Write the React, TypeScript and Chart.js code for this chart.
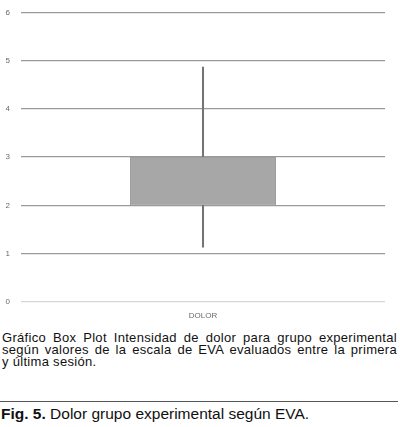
import React, { useEffect, useRef } from "react";
import { Chart, registerables } from "chart.js";

Chart.register(...registerables);

// Box plot summary for the pain (EVA) scores
const categories = ["DOLOR"];
const lowerWhisker = [1.13];
const q1 = [2];
const q3 = [3];
const upperWhisker = [4.87];
const yTicks = [0, 1, 2, 3, 4, 5, 6];

const captionLines = [
  "Gráfico Box Plot Intensidad de dolor para grupo experimental",
  "según valores de la escala de EVA evaluados entre la primera",
  "y última sesión.",
];
const figLabel = "Fig. 5.";
const figTitle = "Dolor grupo experimental según EVA.";

export default function App() {
  const canvasRef = useRef<HTMLCanvasElement | null>(null);

  useEffect(() => {
    document.body.style.margin = "0";
    const canvas = canvasRef.current;
    if (!canvas) return;

    const boxData = categories.map((_, i) => [q1[i], q3[i]]);
    const lowData = categories.map((_, i) => [lowerWhisker[i], q1[i]]);
    const highData = categories.map((_, i) => [q3[i], upperWhisker[i]]);

    const chart = new Chart(canvas, {
      type: "bar",
      data: {
        labels: categories,
        datasets: [
          {
            label: "whisker-low",
            data: lowData as any,
            backgroundColor: "#747474",
            borderWidth: 0,
            barThickness: 1.4,
            grouped: false,
            order: 2,
          } as any,
          {
            label: "whisker-high",
            data: highData as any,
            backgroundColor: "#747474",
            borderWidth: 0,
            barThickness: 1.4,
            grouped: false,
            order: 2,
          } as any,
          {
            label: "box",
            data: boxData as any,
            backgroundColor: "#a6a7a6",
            borderColor: "#9c9d9c",
            borderWidth: 1,
            borderSkipped: false,
            barPercentage: 0.401,
            categoryPercentage: 1,
            grouped: false,
            order: 1,
          } as any,
        ],
      },
      options: {
        responsive: false,
        animation: false,
        layout: {
          autoPadding: false,
          padding: { left: 0, right: 15, top: 12.5, bottom: 0 },
        },
        plugins: {
          legend: { display: false },
          tooltip: { enabled: false },
        },
        scales: {
          x: {
            afterFit: (axis: any) => {
              axis.height = 20.3;
              axis.paddingLeft = 0;
              axis.paddingRight = 0;
            },
            grid: { display: false },
            border: { display: false },
            ticks: {
              color: "#6a6a6a",
              font: { family: "Liberation Sans", size: 8 },
              padding: 1,
            },
          },
          y: {
            min: 0,
            max: 6,
            afterBuildTicks: (axis: any) => {
              axis.ticks = yTicks.map((v) => ({ value: v }));
            },
            afterFit: (axis: any) => {
              axis.width = 21;
              axis.paddingTop = 0;
              axis.paddingBottom = 0;
            },
            border: { display: false },
            grid: {
              drawTicks: false,
              lineWidth: 1.3,
              color: (ctx: any) =>
                ctx.tick && ctx.tick.value === 0 ? "#d6d6d6" : "#9a9a9a",
            },
            ticks: {
              color: "#6a6a6a",
              font: { family: "Liberation Sans", size: 8 },
              padding: 11,
            },
          },
        },
      },
    });

    return () => chart.destroy();
  }, []);

  return (
    <div style={{ width: 400, height: 427, position: "relative", background: "#fff" }}>
      <canvas ref={canvasRef} width={400} height={322} style={{ display: "block" }} />
      <div
        style={{
          position: "absolute",
          left: 2,
          top: 332,
          width: 395,
          fontFamily: "Liberation Sans, Arial, sans-serif",
          fontSize: 13,
          lineHeight: "12px",
          letterSpacing: "0.3px",
          color: "#111",
        }}
      >
        {captionLines.map((line, i) => (
          <div
            key={i}
            style={{
              textAlign: i < captionLines.length - 1 ? "justify" : "left",
              textAlignLast: i < captionLines.length - 1 ? "justify" : "left",
              whiteSpace: "nowrap",
            }}
          >
            {line}
          </div>
        ))}
      </div>
      <div
        style={{
          position: "absolute",
          left: 0,
          top: 401,
          width: 398,
          height: 0,
          borderTop: "1.3px solid #555",
        }}
      />
      <div
        style={{
          position: "absolute",
          left: 1,
          top: 405,
          fontFamily: "Liberation Sans, Arial, sans-serif",
          fontSize: 15.5,
          lineHeight: "18px",
          color: "#111",
          whiteSpace: "nowrap",
        }}
      >
        <span style={{ fontWeight: "bold" }}>{figLabel}</span> {figTitle}
      </div>
    </div>
  );
}
